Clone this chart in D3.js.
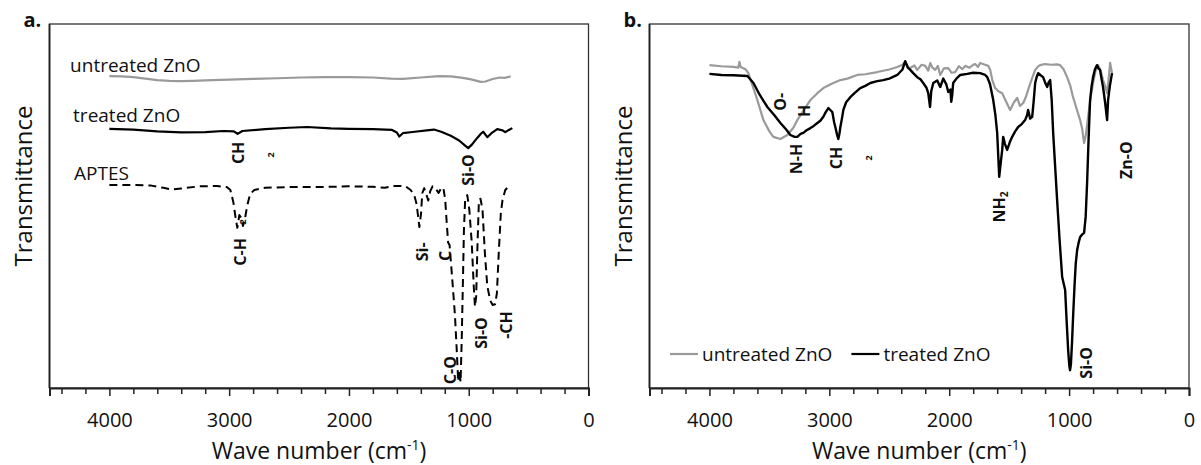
<!DOCTYPE html>
<html><head><meta charset="utf-8">
<script src="https://cdn.jsdelivr.net/npm/d3@7"></script>
<style>
html,body{margin:0;padding:0;background:#fff;}
svg{display:block;font-family:"Open Sans",sans-serif;}
</style></head>
<body><svg id="c" width="1201" height="465"></svg>
<script>
// ---------- data ----------
const xDomain = [4500, 0];
const yDomain = [0, 100];
const minorTicks = [4400,4200,3800,3600,3400,3200,2800,2600,2400,2200,1800,1600,1400,1200,800,600,400,200];
const majorTicks = [4000,3000,2000,1000,0];

// panel a (wavenumber, transmittance with offsets)
const aUntreated = [[4000,85.7],[3900,85.6],[3800,85.4],[3700,85.0],[3600,84.6],[3500,84.4],[3400,84.3],[3300,84.4],[3200,84.5],[3000,84.7],[2800,84.9],[2600,85.1],[2400,85.3],[2200,85.4],[2000,85.4],[1800,85.3],[1650,85.0],[1550,84.9],[1400,85.3],[1250,85.7],[1150,85.6],[1050,85.2],[980,84.8],[900,84.1],[860,84.2],[800,84.9],[740,85.3],[700,85.2],[650,85.6]];
const aTreated = [[4000,71.2],[3800,71.0],[3600,70.5],[3400,70.2],[3200,70.3],[3050,70.6],[2960,70.5],[2930,69.8],[2890,70.6],[2700,71.1],[2500,71.5],[2350,71.7],[2150,71.3],[2000,71.2],[1800,71.1],[1640,70.9],[1600,70.2],[1580,69.1],[1550,70.0],[1450,70.4],[1350,70.8],[1290,71.0],[1230,70.4],[1150,69.3],[1080,68.0],[1030,66.6],[1004,65.9],[970,67.0],[929,68.7],[900,69.8],[879,70.4],[845,68.9],[810,70.0],[762,71.1],[720,70.8],[695,70.3],[665,70.9],[636,71.4]];
const aAptes = [[4000,55.8],[3800,55.8],[3650,55.6],[3550,55.0],[3480,54.5],[3400,54.8],[3250,55.4],[3100,55.5],[3020,55.2],[2990,54.4],[2965,51.0],[2945,46.5],[2932,44.0],[2915,47.5],[2900,46.8],[2885,44.5],[2868,46.5],[2850,50.0],[2825,53.3],[2790,54.4],[2700,55.0],[2500,55.2],[2250,55.2],[2000,55.4],[1800,55.3],[1700,55.0],[1620,55.5],[1530,55.5],[1485,54.4],[1455,53.0],[1435,50.5],[1412,44.2],[1398,48.0],[1388,53.5],[1372,54.9],[1352,53.0],[1338,51.5],[1322,54.0],[1302,55.4],[1280,55.0],[1252,53.6],[1232,54.8],[1212,55.1],[1196,51.6],[1186,46.5],[1172,40.0],[1160,39.3],[1140,31.0],[1115,20.0],[1100,10.4],[1088,1.8],[1078,4.9],[1068,1.6],[1058,14.0],[1048,30.0],[1040,43.4],[1030,51.6],[1012,53.0],[995,49.0],[975,40.0],[958,28.0],[948,22.3],[938,25.0],[928,38.0],[915,51.5],[902,52.0],[885,49.0],[865,37.0],[845,28.0],[820,24.0],[800,22.8],[780,23.0],[765,26.0],[748,38.0],[732,48.0],[718,51.6],[695,54.4],[672,55.2],[650,55.8]];

// panel b
const bUntreated = [[4000,88.7],[3900,88.4],[3800,88.2],[3760,88.0],[3750,89.6],[3740,88.2],[3700,87.6],[3675,86.5],[3640,83.0],[3600,79.1],[3550,73.6],[3500,70.5],[3467,69.0],[3408,68.4],[3350,69.5],[3300,71.5],[3267,73.6],[3200,77.0],[3158,79.1],[3100,81.0],[3050,82.4],[2980,83.6],[2908,84.6],[2850,85.0],[2767,86.0],[2700,86.2],[2600,86.8],[2500,87.5],[2433,88.2],[2390,88.8],[2367,89.6],[2340,88.0],[2325,87.9],[2290,88.6],[2267,87.4],[2230,88.8],[2200,88.5],[2175,87.2],[2158,89.3],[2140,88.0],[2117,87.4],[2095,88.5],[2075,86.0],[2045,87.8],[2008,87.9],[1980,86.6],[1950,86.8],[1920,88.4],[1890,87.6],[1867,88.5],[1830,88.0],[1800,88.8],[1783,89.0],[1760,88.2],[1742,89.3],[1700,88.8],[1675,88.5],[1658,87.4],[1640,84.5],[1617,82.4],[1590,81.5],[1558,81.0],[1530,79.0],[1492,76.4],[1460,78.5],[1433,79.7],[1410,77.5],[1383,78.3],[1360,80.0],[1342,81.9],[1310,85.0],[1283,87.4],[1260,88.3],[1242,88.7],[1200,89.0],[1150,88.8],[1100,88.9],[1075,88.7],[1045,87.5],[1017,85.4],[990,83.0],[967,79.9],[940,77.0],[908,73.6],[890,71.0],[875,67.3],[860,69.5],[842,74.5],[820,80.0],[800,83.8],[780,87.0],[758,88.7],[735,87.0],[717,84.6],[700,83.0],[683,81.0],[670,85.0],[658,89.3],[642,86.5]];
const bTreated = [[4000,86.3],[3900,86.0],[3800,85.9],[3683,85.7],[3633,83.8],[3580,80.5],[3517,77.2],[3460,75.0],[3408,72.8],[3360,71.0],[3325,69.5],[3290,69.0],[3267,69.0],[3240,69.8],[3217,70.1],[3190,70.8],[3158,71.4],[3130,72.0],[3100,72.8],[3075,73.4],[3050,74.5],[3030,75.8],[3008,76.9],[2990,76.3],[2975,75.8],[2960,73.0],[2950,71.7],[2935,69.5],[2925,68.4],[2915,70.0],[2908,71.7],[2895,74.0],[2883,76.4],[2860,78.5],[2825,79.9],[2790,81.0],[2742,82.4],[2700,83.0],[2658,83.8],[2600,84.3],[2550,84.6],[2500,85.0],[2433,86.0],[2390,87.5],[2367,89.8],[2345,88.0],[2325,87.4],[2300,86.5],[2267,85.4],[2240,84.8],[2217,83.8],[2190,82.5],[2175,81.0],[2160,77.2],[2150,81.5],[2133,83.8],[2100,84.5],[2075,82.7],[2050,85.0],[2025,83.5],[2008,81.3],[1990,82.0],[1983,78.6],[1975,80.5],[1967,83.8],[1940,85.0],[1908,86.0],[1850,86.3],[1800,86.6],[1742,86.5],[1700,86.0],[1683,85.4],[1660,83.5],[1633,79.1],[1615,75.0],[1600,70.1],[1590,63.0],[1583,58.0],[1570,62.0],[1558,65.4],[1550,69.0],[1535,67.0],[1517,65.4],[1495,67.5],[1475,69.0],[1450,70.5],[1425,71.7],[1395,72.5],[1367,73.6],[1350,75.0],[1342,76.4],[1325,74.0],[1308,74.5],[1295,79.0],[1283,83.8],[1270,85.5],[1258,86.5],[1240,86.0],[1217,85.4],[1195,83.5],[1183,82.7],[1170,84.0],[1158,84.6],[1145,79.0],[1133,70.1],[1115,60.0],[1100,51.6],[1080,41.0],[1058,30.5],[1033,26.9],[1020,18.0],[1008,10.4],[998,6.0],[992,4.9],[985,6.5],[975,13.0],[967,19.5],[955,28.0],[945,34.0],[933,37.9],[920,40.0],[908,41.5],[890,42.2],[875,42.6],[862,47.0],[850,56.3],[838,68.0],[825,79.1],[812,83.0],[800,85.4],[785,87.5],[767,88.7],[755,87.8],[742,87.4],[730,85.0],[717,82.7],[700,78.5],[683,73.6],[675,79.1],[660,83.0],[642,86.5]];

// annotations: [text, wavenumber, T, subscript]
const aSeriesLabels = [["untreated ZnO",4328,86.8],["treated ZnO",4303,73.1],["APTES",4295,57.1]];
const aPeakLabels = [["CH",2926,64.6],["2",2659,64.0],["C-H",2909,37.4],["2",2892,45.6],["Si-O",1006,59.9],["Si-",1390,37.4],["C",1198,36.3],["C-O",1156,4.9],["Si-O",897,15.1],["-CH",689,17.3]];
const bPeakLabels = [["O-",3411,78.6],["H",3211,76.1],["N-H",3278,62.9],["CH",2944,63.2],["2",2677,63.2],["NH",1585,49.7,"2"],["Zn-O",525,62.6],["Si-O",859,6.9]];
const bLegend = [["untreated ZnO","#9a9a9a"],["treated ZnO","#000"]];

// ---------- drawing ----------
const svg = d3.select("#c");
svg.append("rect").attr("width",1201).attr("height",465).attr("fill","#fff");
const yTop = 24, yBottom = 388;

function panel(x0, x1, letter) {
  const g = svg.append("g");
  const x = d3.scaleLinear().domain(xDomain).range([x0, x1]);
  const y = d3.scaleLinear().domain(yDomain).range([yBottom, yTop]);
  g.append("rect").attr("x", x0).attr("y", yTop).attr("width", x1 - x0).attr("height", yBottom - yTop)
    .attr("fill", "none").attr("stroke", "#333").attr("stroke-width", 1.3);
  const minor = g.append("g").attr("transform", `translate(0,${yBottom})`)
    .call(d3.axisBottom(x).tickValues(minorTicks).tickSize(6).tickFormat(""));
  minor.select(".domain").remove();
  minor.selectAll("line").attr("stroke", "#222").attr("stroke-width", 1.5);
  const major = g.append("g").attr("transform", `translate(0,${yBottom})`)
    .call(d3.axisBottom(x).tickValues(majorTicks).tickSize(8).tickPadding(17).tickFormat(d3.format("d")));
  major.select(".domain").attr("stroke", "#222").attr("stroke-width", 2);
  major.selectAll("line").attr("stroke", "#222").attr("stroke-width", 1.5);
  major.selectAll("text").attr("font-family", "Open Sans").attr("font-size", 20).attr("fill", "#111");
  g.append("line").attr("x1", x0).attr("x2", x0).attr("y1", yTop).attr("y2", yBottom).attr("stroke", "#222").attr("stroke-width", 1.8);
  const t = g.append("text").attr("x", (x0 + x1) / 2).attr("y", 459).attr("text-anchor", "middle")
    .attr("font-size", 23).attr("fill", "#111");
  t.append("tspan").text("Wave number (cm");
  t.append("tspan").attr("font-size", 14).attr("dy", -9).text("-1");
  t.append("tspan").attr("dy", 9).text(")");
  g.append("text").attr("transform", `translate(${x0 - 27},186) rotate(-90)`).attr("text-anchor", "middle")
    .attr("dominant-baseline", "central").attr("font-size", 24).attr("fill", "#111").text("Transmittance");
  g.append("text").attr("x", x0 - 26).attr("y", 27).attr("font-size", 20).attr("font-weight", "bold")
    .attr("fill", "#111").text(letter);
  return {g, x, y};
}

function drawLine(p, data, color, width, dash) {
  const line = d3.line().x(d => p.x(d[0])).y(d => p.y(d[1])).curve(d3.curveLinear);
  const path = p.g.append("path").datum(data).attr("d", line).attr("fill", "none")
    .attr("stroke", color).attr("stroke-width", width).attr("stroke-linejoin", "round");
  if (dash) path.attr("stroke-dasharray", dash);
}

function peakLabels(p, list, size) {
  list.forEach(([txt, wn, tv, sub]) => {
    const small = txt === "2";
    const el = p.g.append("text")
      .attr("transform", `translate(${p.x(wn)},${p.y(tv)}) rotate(-90)`)
      .attr("text-anchor", "middle").attr("dominant-baseline", "central")
      .attr("font-size", small ? 9 : size).attr("font-weight", "bold").attr("fill", "#111");
    el.append("tspan").text(txt);
    if (sub) el.append("tspan").attr("font-size", 10).attr("dy", 5).text(sub);
  });
}

// Panel a
const pa = panel(49.5, 588.5, "a.");
drawLine(pa, aUntreated, "#9a9a9a", 2.2);
drawLine(pa, aTreated, "#000", 2.2);
drawLine(pa, aAptes, "#000", 2, "8,5");
aSeriesLabels.forEach(([txt, wn, tv]) => {
  pa.g.append("text").attr("x", pa.x(wn)).attr("y", pa.y(tv)).attr("font-size", 19).attr("fill", "#111").text(txt);
});
peakLabels(pa, aPeakLabels, 16);

// Panel b
const pb = panel(649.5, 1189, "b.");
drawLine(pb, bUntreated, "#9a9a9a", 2.2);
drawLine(pb, bTreated, "#000", 2.4);
peakLabels(pb, bPeakLabels, 16);
const lg = pb.g.append("g");
let lx = 670;
bLegend.forEach(([txt, col]) => {
  lg.append("line").attr("x1", lx).attr("x2", lx + 28).attr("y1", 354).attr("y2", 354).attr("stroke", col).attr("stroke-width", 2.2);
  const tt = lg.append("text").attr("x", lx + 32).attr("y", 361).attr("font-size", 19).attr("fill", "#111").text(txt);
  lx = lx + 32 + tt.node().getComputedTextLength() + 19;
});
</script></body></html>
